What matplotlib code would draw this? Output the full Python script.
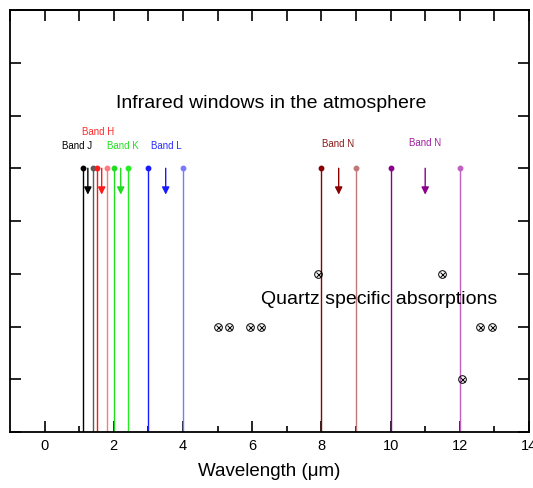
import matplotlib
matplotlib.use("Agg")
import matplotlib.pyplot as plt

plt.rcParams['font.family'] = ['Liberation Sans', 'DejaVu Sans']

# ---- data ----
band_names = ['Band J', 'Band H', 'Band K', 'Band L', 'Band N', 'Band N']
band_start = [1.1, 1.5, 2.0, 3.0, 8.0, 10.0]
band_end = [1.4, 1.8, 2.4, 4.0, 9.0, 12.0]
line_top = 5.0
arrow_bottom = 4.5

quartz_x = [7.9, 11.48, 5.0, 5.33, 5.95, 6.25, 12.57, 12.93, 12.07]
quartz_y = [3, 3, 2, 2, 2, 2, 2, 2, 1]

title_text = 'Infrared windows in the atmosphere'
quartz_text = 'Quartz specific absorptions'
x_ticks = [0, 2, 4, 6, 8, 10, 12, 14]

# ---- styles / layout ----
dark_colors = ['#000000', '#ff1a1a', '#1fdc1f', '#1a1aff', '#8b0000', '#8b008b']
light_colors = ['#5a5a5a', '#ff7a7a', '#22ee22', '#7a7aff', '#c07878', '#c060c0']
label_colors = ['#000000', '#ff2a2a', '#22dd22', '#2a2aff', '#8b1a1a', '#a020a0']
label_x = [0.93, 1.55, 2.26, 3.52, 8.48, 11.0]
label_y = [5.42, 5.69, 5.42, 5.42, 5.46, 5.48]

fig = plt.figure(figsize=(5.33, 4.88), dpi=100)
ax = fig.add_axes([10/533, (488-432)/488, 519/533, 422/488])

for i in range(len(band_names)):
    for xv, col in ((band_start[i], dark_colors[i]), (band_end[i], light_colors[i])):
        ax.plot([xv, xv], [0, line_top], color=col, lw=1.0, zorder=2)
        ax.plot([xv], [line_top], marker='o', ms=3.2, color=col, zorder=3)
    mid = (band_start[i] + band_end[i]) / 2
    ax.annotate('', xy=(mid, arrow_bottom), xytext=(mid, line_top),
                arrowprops=dict(arrowstyle='-|>', color=dark_colors[i], lw=1.0,
                                mutation_scale=11, shrinkA=0, shrinkB=0))
    ax.text(label_x[i], label_y[i], band_names[i], color=label_colors[i],
            fontsize=7, ha='center', va='center')

ax.plot(quartz_x, quartz_y, ls='none', marker='o', ms=5.5, mfc='none',
        mec='black', mew=0.7, zorder=4)
ax.plot(quartz_x, quartz_y, ls='none', marker='x', ms=3.6, color='black',
        mew=0.7, zorder=4)

ax.text(6.55, 6.22, title_text, fontsize=14, ha='center', va='center')
ax.text(9.66, 2.52, quartz_text, fontsize=14, ha='center', va='center')

ax.set_xlim(-1, 14)
ax.set_ylim(0, 8)
ax.set_xticks(x_ticks)
ax.set_xticks([1, 3, 5, 7, 9, 11, 13], minor=True)
ax.set_yticks(range(0, 9))
ax.tick_params(axis='x', which='major', direction='in', length=8, width=1.2,
               labelsize=10.5, pad=5, top=False)
ax.tick_params(axis='x', which='minor', direction='in', length=4, width=1.2, top=False)
ax.tick_params(axis='y', which='major', direction='in', length=8, width=1.2,
               left=True, right=True, labelleft=False)
for s in ax.spines.values():
    s.set_linewidth(1.3)

sec = ax.secondary_xaxis('top')
sec.set_xticks(range(-1, 15))
sec.tick_params(direction='in', length=8, width=1.2, labeltop=False)
sec.spines['top'].set_linewidth(1.3)

ax.set_xlabel('Wavelength (μm)', fontsize=13.5, labelpad=7)

fig.savefig('out.png', dpi=100)
